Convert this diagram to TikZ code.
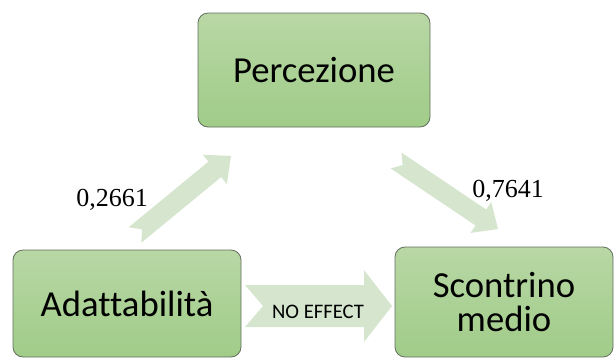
\documentclass[tikz,border=0pt]{standalone}
\usepackage{fontspec}
\usepackage{xcolor}
\usetikzlibrary{calc}
\setmainfont{Liberation Serif}
\newfontfamily\boxfont[RawFeature=-liga, RawFeature=-calt]{Carlito}

\definecolor{boxtop}{RGB}{184,215,165}
\definecolor{boxbot}{RGB}{160,204,136}
\definecolor{boxline}{RGB}{100,110,95}
\definecolor{flowgreen}{RGB}{214,230,206}

\tikzset{
  factor/.style={draw=boxline, line width=0.6pt, rounded corners=7.5pt,
    top color=boxtop, bottom color=boxbot, align=center,
    font=\boxfont\fontsize{27.5}{26}\selectfont},
  flow/.style={fill=flowgreen},
  weight/.style={font=\fontsize{19.5}{22}\selectfont}
}

% block arrow with a notched tail: tail, tip, half shaft, half head, head length, notch
\newcommand{\blockarrow}[6]{%
  \coordinate (hb) at ($(#2)!#5!(#1)$);
  \fill[flow] ($(#1)!#3!90:(#2)$) -- ($(hb)!#3!90:(#2)$) -- ($(hb)!#4!90:(#2)$)
    -- (#2) -- ($(hb)!#4!-90:(#2)$) -- ($(hb)!#3!-90:(#2)$)
    -- ($(#1)!#3!-90:(#2)$) -- ($(#1)!#6!(#2)$) -- cycle;
}

\begin{document}
\begin{tikzpicture}[x=0.75pt,y=-0.75pt]
\useasboundingbox (0,0) rectangle (614,358);

\node[factor, minimum width=174pt, minimum height=85.5pt] (per) at (314,70) {Percezione};
\node[factor, minimum width=171pt, minimum height=80.25pt] (ada) at (127,303.5) {Adattabilità};
\node[factor, minimum width=163.5pt, minimum height=82.5pt] (sco) at (504,302) {Scontrino\\medio};

\coordinate (ap-tail) at (135,235);
\coordinate (ap-tip)  at (231,156);
\coordinate (ps-tail) at (396,160.5);
\coordinate (ps-tip)  at (498,229);
\coordinate (as-tail) at (245,306);
\coordinate (as-tip)  at (392,306);

\blockarrow{ap-tail}{ap-tip}{7.5pt}{14.25pt}{15.75pt}{6.75pt}
\blockarrow{ps-tail}{ps-tip}{7.2pt}{14pt}{15.5pt}{6pt}
\blockarrow{as-tail}{as-tip}{15.75pt}{27pt}{21pt}{13.5pt}

\node[weight] (w-ap) at (112,200) {0,2661};
\node[weight] (w-ps) at (508,191) {0,7641};
\node[font=\boxfont\fontsize{15.5}{18}\selectfont] (no-eff) at (318,312) {NO EFFECT};

\end{tikzpicture}
\end{document}
